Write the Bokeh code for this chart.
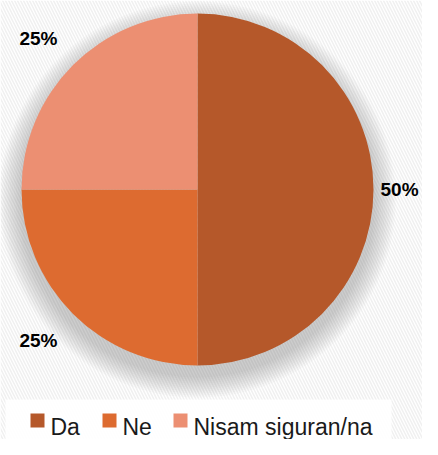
import numpy as np
from bokeh.plotting import figure
from bokeh.models import ColumnDataSource
from bokeh.core.properties import value
from bokeh.embed import file_html
from bokeh.resources import INLINE

# ---- data ----
categories = ["Da", "Ne", "Nisam siguran/na"]
percent = [50, 25, 25]
colors = ["#B5582A", "#DD6B30", "#EC8F72"]

# ---- layout (figure pixel coordinates, y up) ----
W, H = 422, 439
cx, cy, R = 197, 250, 176
label_r = 198
label_w = 42
legend_sq_x = [30, 102, 173]
legend_y = 19

p = figure(width=W, height=H, x_range=(0, W), y_range=(0, H),
           output_backend="svg", toolbar_location=None, min_border=0,
           outline_line_color=None)
p.axis.visible = False
p.grid.visible = False
p.background_fill_color = "white"
p.border_fill_color = "white"

# striped background
p.quad(left=[0], right=[W], bottom=[0], top=[H], fill_color="white",
       line_color=None, hatch_pattern="\\", hatch_color="#F0F0F0",
       hatch_scale=6, hatch_weight=1.5)

# soft shadow
for k in range(22, 0, -2):
    p.circle(x=[cx], y=[cy - 10], radius=R + k, fill_color="#7F7F7F",
             fill_alpha=0.035, line_color=None)

# wedges
vals = np.array(percent, dtype=float)
frac = vals / vals.sum()
ends = np.pi / 2 - 2 * np.pi * np.cumsum(frac)
starts = np.concatenate([[np.pi / 2], ends[:-1]])
src = ColumnDataSource(dict(cat=categories, start=starts, end=ends, color=colors))
p.wedge(x=cx, y=cy, radius=R, start_angle="start", end_angle="end",
        direction="clock", fill_color="color", line_color=None, source=src)

# labels (outside end)
mids = (starts + ends) / 2
lx = cx + label_r * np.cos(mids)
ly = cy + label_r * np.sin(mids)
aligns = ["left" if np.cos(m) > 0.3 else ("right" if np.cos(m) < -0.3 else "center") for m in mids]
bases = ["bottom" if np.sin(m) > 0.3 else ("top" if np.sin(m) < -0.3 else "middle") for m in mids]
lx = np.array([min(x, W - label_w) if a == "left" else max(x, label_w) if a == "right" else x
               for x, a in zip(lx, aligns)])
lab = ColumnDataSource(dict(x=lx, y=ly, t=[f"{v}%" for v in percent], a=aligns, b=bases))
p.text(x="x", y="y", text="t", text_align="a", text_baseline="b", source=lab,
       text_font=value("Liberation Sans"), text_font_style="bold",
       text_font_size="19px", text_color="black")

# legend background
p.quad(left=[5], right=[391], bottom=[0], top=[40], fill_color="white",
       fill_alpha=0.9, line_color=None)
# legend
leg = ColumnDataSource(dict(x=np.array(legend_sq_x) + 7, y=[legend_y] * 3,
                            tx=np.array(legend_sq_x) + 20, ty=[legend_y - 6] * 3,
                            t=categories, color=colors))
p.rect(x="x", y="y", width=14, height=14, fill_color="color", line_color=None, source=leg)
p.text(x="tx", y="ty", text="t", source=leg, text_font=value("Liberation Sans"),
       text_font_size="23px", text_baseline="alphabetic", text_color="#1A1A1A")

open("out.html", "w").write(file_html(p, INLINE))
